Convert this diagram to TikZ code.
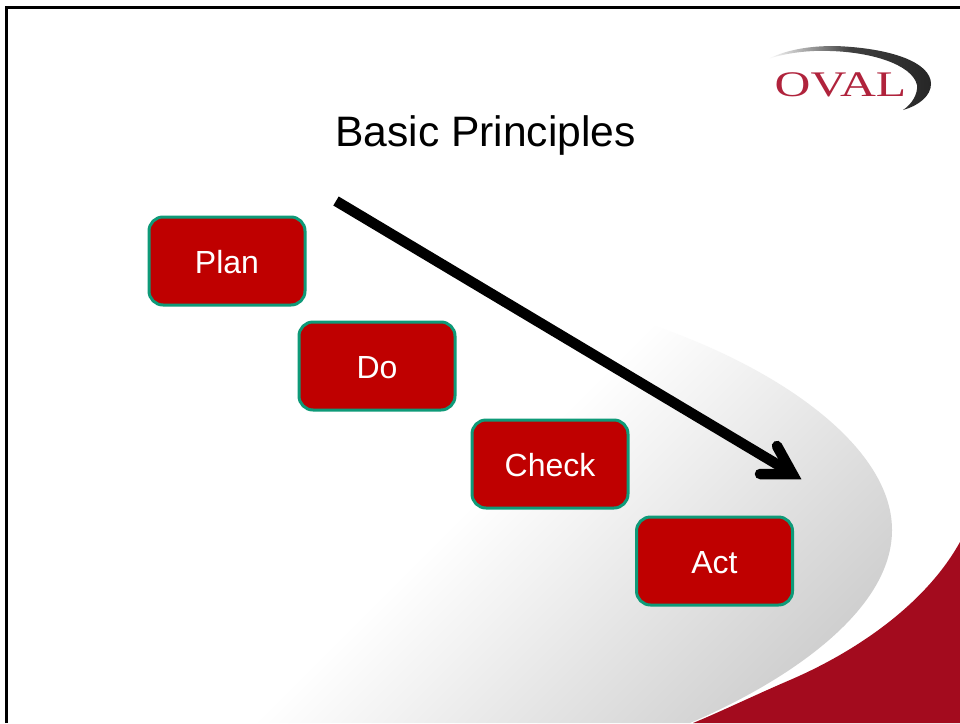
\documentclass[tikz,border=0pt]{standalone}
\usepackage{fontspec}
\setmainfont{Liberation Sans}
\newfontfamily\logofont{Liberation Serif}
\definecolor{boxred}{HTML}{BF0000}
\definecolor{boxedge}{HTML}{0E9A78}
\definecolor{wine}{HTML}{A30B1E}
\definecolor{logored}{HTML}{B0233C}
\definecolor{swooshgray}{HTML}{C8C8C8}
\pgfdeclarehorizontalshading{swooshfade}{100bp}{color(0bp)=(white); color(40.5bp)=(white); color(63bp)=(swooshgray); color(100bp)=(swooshgray)}
\tikzset{
  stepbox/.style={draw=boxedge,fill=boxred,line width=3pt,rounded corners=14pt,
    minimum width=156pt,minimum height=88pt,inner sep=0pt,text=white,
    text height=26pt,text depth=2pt,
    font=\fontsize{32}{38}\selectfont},
  bigarrow/.style={draw=black,line width=10.5pt},
}
\begin{document}
\begin{tikzpicture}[x=1pt,y=-1pt]
\useasboundingbox (0,0) rectangle (960,723);
\fill[white] (0,0) rectangle (960,723);
% grey swoosh
\begin{scope}
\clip (620,315) .. controls (760,355) and (892,440) .. (892,530)
  .. controls (892,610) and (790,680) .. (690,723) -- (250,723) -- (250,315) -- cycle;
\shade[shading=swooshfade,shading angle=-45]
  (250,65) rectangle (1150,965);
\end{scope}
% wine swoosh
\fill[wine] (960,542) .. controls (925,605) and (855,652) .. (790,680)
  .. controls (755,695) and (720,712) .. (693,723) -- (960,723) -- cycle;
% frame
\draw[black,line width=2.4pt] (6.6,723) -- (6.6,7.4) -- (960,7.4);
% logo
\shade[left color=white,right color=black!85,middle color=black!75]
  (768,59) .. controls (790,48) and (815,46) .. (835,46)
  .. controls (890,48) and (931,62) .. (931,84)
  .. controls (931,96) and (918,106) .. (903,110)
  .. controls (912,104) and (918,94) .. (917,85)
  .. controls (912,64) and (870,52) .. (830,51)
  .. controls (810,50) and (785,53) .. (768,59) -- cycle;
\node[inner sep=0pt,text=logored,xscale=1.38] (logo) at (840.5,84.5)
  {\logofont\fontsize{36}{40}\selectfont OVAL};
% title
\node[inner sep=0pt,text=black,font=\fontsize{42.6}{48}\selectfont] (title) at (485.5,135) {Basic Principles};
% boxes
\node[stepbox] (plan) at (227,261) {Plan};
\node[stepbox] (do) at (377,366) {Do};
\node[stepbox] (check) at (550,464) {Check};
\node[stepbox] (act) at (714.5,561) {Act};
% arrow
\coordinate (astart) at (336,201);
\coordinate (aend) at (790,472);
\coordinate (btop) at (777,446);
\coordinate (bjoin) at (792.5,474);
\coordinate (bbot) at (760,474);
\draw[bigarrow] (astart) -- (aend);
\draw[bigarrow,line cap=round,line join=miter] (btop) -- (bjoin) -- (bbot);
\end{tikzpicture}
\end{document}
